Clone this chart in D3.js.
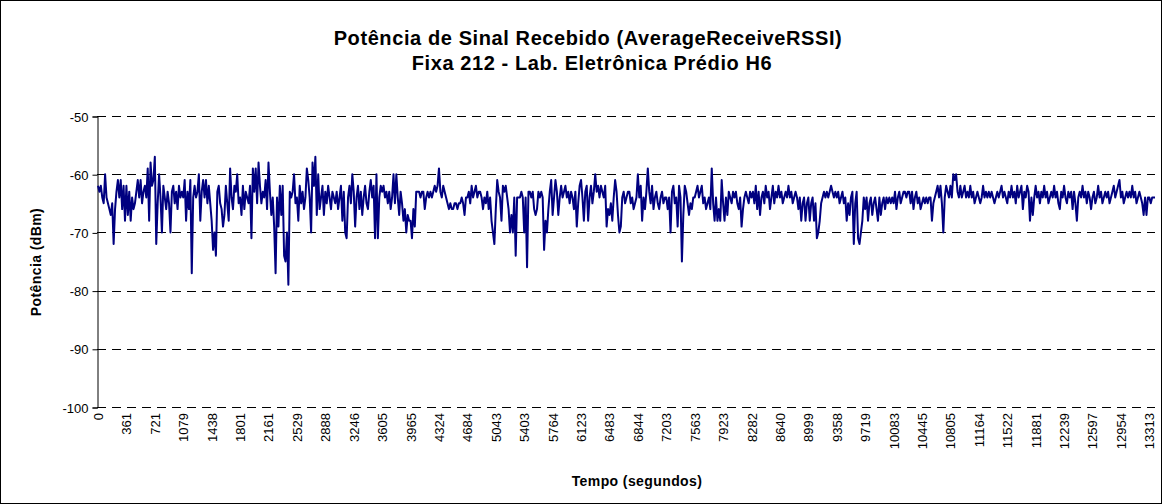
<!DOCTYPE html>
<meta charset="utf-8">
<style>
body { margin: 0; background: #fff; }
text { font-family: "Liberation Sans", Arial, sans-serif; }
.title { font-size: 20px; font-weight: bold; letter-spacing: 0.6px; }
.axis-title { font-size: 14px; font-weight: bold; letter-spacing: 0.4px; }
.tick-label { font-size: 13px; }
.grid { stroke: #000; stroke-dasharray: 9,6; }
.line { fill: none; stroke: #000080; stroke-width: 2; stroke-linejoin: round; }
</style>
<body>
<script src="https://cdn.jsdelivr.net/npm/d3@7"></script>
<script>
// tempo labels, one every 20 samples
var tickLabels = [0, 361, 721, 1079, 1438, 1801, 2161, 2529, 2888, 3246, 3605, 3965, 4324, 4684,
  5043, 5403, 5764, 6123, 6483, 6844, 7203, 7563, 7923, 8282, 8640, 8999, 9358, 9719,
  10083, 10445, 10805, 11164, 11522, 11881, 12239, 12597, 12954, 13313];
var labelStep = 20;

var yTicks = [-100, -90, -80, -70, -60, -50];

// AverageReceiveRSSI (dBm)
var rssi = [
  -62,-63,-62,-64,-65,-60,-64,-65,-66,-67,-65,-72,-66,-63,-61,-64,-61,-66,-62,-68,
  -62,-67,-63,-68,-64,-66,-65,-63,-61,-64,-61,-65,-63,-62,-64,-59,-68,-58,-62,-61,
  -57,-72,-65,-60,-64,-70,-62,-64,-66,-63,-65,-70,-63,-62,-65,-63,-66,-62,-64,-63,
  -64,-61,-68,-63,-66,-61,-77,-64,-62,-64,-63,-60,-68,-63,-61,-64,-61,-65,-62,-65,
  -68,-73,-70,-74,-63,-62,-65,-66,-69,-67,-62,-65,-68,-59,-64,-66,-62,-63,-60,-65,
  -64,-67,-62,-66,-63,-64,-65,-62,-71,-59,-63,-59,-65,-58,-62,-65,-63,-64,-61,-66,
  -58,-63,-67,-64,-69,-77,-64,-69,-62,-67,-62,-74,-75,-70,-79,-63,-64,-63,-60,-65,
  -64,-68,-62,-65,-63,-66,-64,-59,-61,-64,-70,-58,-62,-57,-67,-60,-66,-64,-62,-67,
  -63,-65,-62,-64,-66,-63,-64,-65,-63,-66,-64,-62,-68,-63,-70,-71,-64,-62,-65,-60,
  -63,-69,-64,-62,-66,-63,-67,-64,-62,-65,-66,-63,-61,-64,-62,-71,-60,-71,-64,-62,
  -63,-62,-64,-63,-65,-63,-66,-64,-60,-65,-60,-64,-67,-63,-65,-68,-66,-70,-67,-68,
  -68,-71,-66,-69,-63,-63,-63,-64,-63,-63,-66,-64,-63,-64,-63,-64,-63,-62,-63,-62,
  -59,-63,-64,-62,-63,-64,-65,-66,-65,-66,-66,-65,-65,-66,-65,-65,-64,-65,-67,-64,
  -64,-63,-65,-62,-64,-63,-62,-64,-63,-63,-64,-66,-64,-65,-63,-66,-64,-68,-70,-72,
  -66,-61,-63,-64,-68,-62,-63,-62,-64,-66,-70,-67,-70,-64,-74,-64,-64,-64,-63,-64,
  -70,-64,-76,-63,-63,-64,-63,-66,-67,-66,-63,-64,-63,-64,-73,-68,-70,-66,-63,-61,
  -67,-64,-61,-63,-67,-64,-62,-64,-63,-62,-64,-63,-65,-63,-64,-66,-63,-69,-65,-62,
  -61,-64,-68,-63,-62,-68,-64,-62,-65,-63,-60,-63,-62,-64,-62,-63,-64,-62,-69,-66,
  -67,-65,-68,-64,-61,-63,-67,-70,-69,-64,-63,-65,-64,-63,-63,-65,-64,-66,-65,-64,
  -60,-64,-62,-68,-64,-66,-63,-59,-63,-65,-62,-66,-64,-63,-65,-66,-64,-63,-65,-64,
  -64,-66,-64,-70,-63,-62,-65,-64,-69,-62,-64,-75,-67,-62,-63,-65,-67,-65,-66,-64,
  -64,-63,-62,-64,-63,-62,-65,-64,-66,-65,-64,-66,-59,-65,-68,-64,-68,-66,-68,-61,
  -65,-68,-64,-67,-63,-64,-65,-63,-64,-63,-65,-66,-64,-69,-66,-64,-63,-64,-65,-63,
  -64,-63,-65,-62,-66,-63,-67,-64,-63,-65,-62,-64,-63,-66,-64,-62,-65,-63,-64,-62,
  -64,-63,-65,-64,-63,-64,-62,-64,-63,-65,-64,-63,-64,-66,-64,-68,-65,-64,-68,-65,
  -64,-68,-65,-64,-68,-65,-71,-70,-68,-65,-64,-63,-64,-63,-64,-63,-62,-63,-64,-63,
  -64,-63,-65,-64,-63,-65,-64,-68,-65,-67,-64,-63,-72,-65,-63,-71,-72,-70,-68,-64,
  -66,-64,-68,-65,-64,-67,-65,-64,-66,-68,-64,-67,-65,-64,-66,-64,-65,-64,-65,-64,
  -65,-63,-66,-64,-63,-65,-64,-63,-63,-64,-63,-63,-65,-63,-66,-64,-63,-65,-64,-66,
  -65,-64,-65,-64,-65,-64,-64,-68,-65,-64,-63,-62,-64,-62,-65,-70,-64,-62,-63,-64,
  -62,-64,-60,-61,-60,-63,-64,-62,-64,-63,-62,-64,-63,-64,-62,-64,-63,-65,-64,-63,
  -64,-65,-64,-62,-64,-63,-64,-63,-64,-63,-64,-65,-64,-63,-64,-63,-62,-64,-63,-64,
  -65,-63,-64,-62,-64,-63,-65,-62,-64,-63,-62,-66,-63,-64,-62,-63,-68,-64,-67,-64,
  -62,-64,-63,-65,-63,-64,-62,-64,-63,-65,-64,-63,-64,-62,-64,-63,-65,-66,-63,-64,
  -62,-64,-65,-63,-64,-63,-66,-63,-65,-68,-64,-63,-64,-62,-64,-63,-65,-63,-64,-66,
  -64,-63,-65,-64,-62,-64,-63,-65,-64,-63,-64,-63,-65,-64,-63,-62,-64,-63,-62,-61,
  -64,-63,-65,-64,-63,-64,-63,-64,-62,-64,-63,-65,-64,-63,-64,-65,-67,-64,-67,-64,
  -64,-65,-64,-64,-64
];

var W = 1163, H = 504;
var margin = {left: 97, right: 8, top: 116, bottom: 97};
var plotW = W - margin.left - margin.right,
    plotH = H - margin.top - margin.bottom;

var svg = d3.select("body").append("svg")
    .attr("width", W)
    .attr("height", H);

// chart border
svg.append("rect")
    .attr("x", 0.5).attr("y", 0.5)
    .attr("width", W - 2).attr("height", H - 1)
    .attr("fill", "#fff").attr("stroke", "#000");

svg.append("text").attr("class", "title")
    .attr("x", 588).attr("y", 45).attr("text-anchor", "middle")
    .text("Potência de Sinal Recebido (AverageReceiveRSSI)");
svg.append("text").attr("class", "title")
    .attr("x", 592).attr("y", 70).attr("text-anchor", "middle")
    .text("Fixa 212 - Lab. Eletrônica Prédio H6");

var g = svg.append("g")
    .attr("transform", "translate(" + margin.left + "," + margin.top + ")");

var x = d3.scaleLinear()
    .domain([0, rssi.length - 1])
    .range([1, plotW]);

var y = d3.scaleLinear()
    .domain([-100, -50])
    .range([plotH, 0]);

// dashed gridlines
g.selectAll(".grid")
    .data(yTicks)
  .enter().append("line")
    .attr("class", "grid")
    .attr("x1", 0).attr("x2", plotW)
    .attr("y1", function(d) { return Math.round(y(d)) + 0.5; })
    .attr("y2", function(d) { return Math.round(y(d)) + 0.5; });

// y axis
var yAxis = g.append("g")
    .attr("transform", "translate(0.5,0.5)")
    .call(d3.axisLeft(y).tickValues(yTicks).tickSize(5).tickPadding(4)
      .tickFormat(function(d) { return String(d); }));
yAxis.select(".domain").attr("stroke", "#000");
yAxis.selectAll("text").attr("class", "tick-label").attr("fill", "#000")
    .attr("dy", "0.36em");

// rotated category labels
g.selectAll(".xlab")
    .data(tickLabels)
  .enter().append("text")
    .attr("class", "tick-label")
    .attr("text-anchor", "end")
    .attr("transform", function(d, i) {
      return "translate(" + (x(i * labelStep) + 5) + "," + (plotH + 6) + ") rotate(-90)";
    })
    .text(function(d) { return d; });

// the signal
var line = d3.line()
    .x(function(d, i) { return x(i); })
    .y(function(d) { return y(d); });

g.append("path")
    .datum(rssi)
    .attr("class", "line")
    .attr("d", line);

svg.append("text").attr("class", "axis-title")
    .attr("x", 637).attr("y", 486).attr("text-anchor", "middle")
    .text("Tempo (segundos)");

svg.append("text").attr("class", "axis-title")
    .attr("transform", "translate(41,262) rotate(-90)")
    .attr("text-anchor", "middle")
    .text("Potência (dBm)");
</script>
</body>
